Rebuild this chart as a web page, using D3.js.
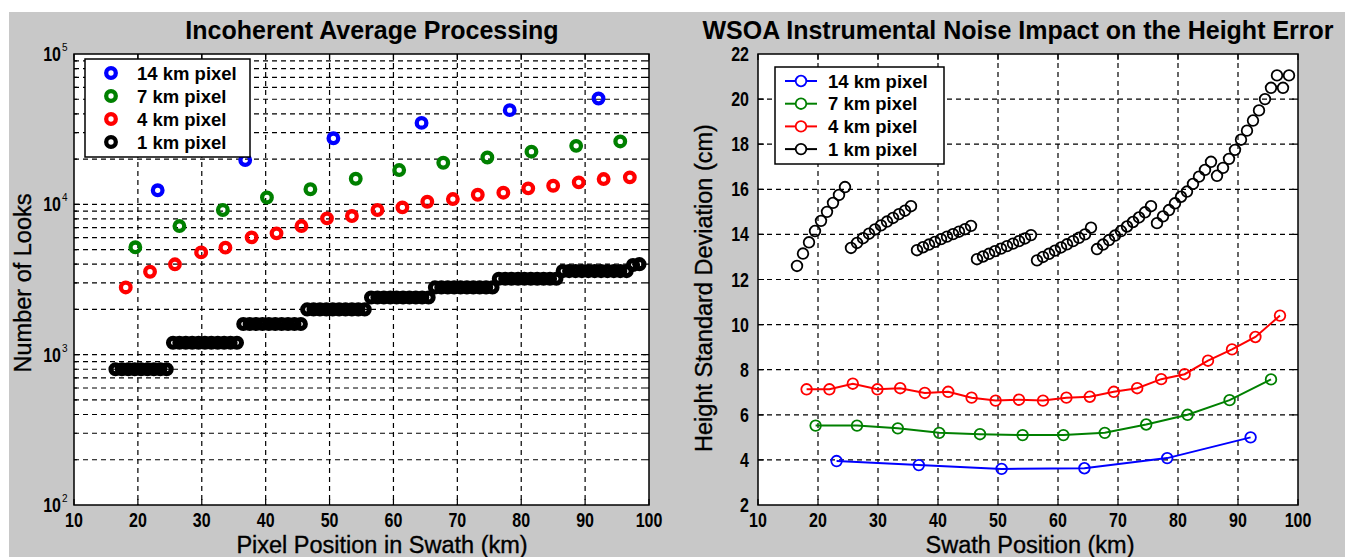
<!DOCTYPE html>
<html>
<head>
<meta charset="utf-8">
<script src="https://cdn.jsdelivr.net/npm/d3@7"></script>
<style>
	body { margin: 0; background: #fff; }
	svg text { font-family: Arial, "Liberation Sans", Helvetica, sans-serif; fill: #000; }
	.axlabel { stroke: #000; stroke-width: 0.35px; }
</style>
</head>
<body>
<svg id="fig" width="1345" height="557"></svg>
<script>

// ---------- Data ----------
const seriesNames = ["14 km pixel", "7 km pixel", "4 km pixel", "1 km pixel"];
const seriesColors = ["#0000ff", "#008000", "#ff0000", "#000000"];

// swath positions (km) of each pixel size
const x14 = [23.1, 36.8, 50.6, 64.4, 78.2, 92.1];
const x7 = [19.6, 26.5, 33.3, 40.2, 47.0, 54.1, 60.9, 67.8, 74.7, 81.6, 88.6, 95.5];
const x4 = [18.1, 21.9, 25.8, 29.9, 33.7, 37.8, 41.7, 45.6, 49.6, 53.5, 57.5, 61.4, 65.3, 69.3, 73.2, 77.2, 81.1, 85.0, 89.0, 92.9, 97.0];
const x1 = [16.5, 17.5, 18.5, 19.5, 20.5, 21.5, 22.5, 23.5, 24.5,
	25.5, 26.5, 27.5, 28.5, 29.5, 30.5, 31.5, 32.5, 33.5, 34.5, 35.5,
	36.5, 37.5, 38.5, 39.5, 40.5, 41.5, 42.5, 43.5, 44.5, 45.5,
	46.5, 47.5, 48.5, 49.5, 50.5, 51.5, 52.5, 53.5, 54.5, 55.5,
	56.5, 57.5, 58.5, 59.5, 60.5, 61.5, 62.5, 63.5, 64.5, 65.5,
	66.5, 67.5, 68.5, 69.5, 70.5, 71.5, 72.5, 73.5, 74.5, 75.5,
	76.5, 77.5, 78.5, 79.5, 80.5, 81.5, 82.5, 83.5, 84.5, 85.5,
	86.5, 87.5, 88.5, 89.5, 90.5, 91.5, 92.5, 93.5, 94.5, 95.5, 96.5, 97.5, 98.5];

// number of looks (left chart)
const looks14 = [12400, 19700, 27500, 34800, 42300, 50600];
const looks7 = [5180, 7170, 9170, 11100, 12600, 14800, 16900, 18900, 20500, 22400, 24500, 26200];
const looks4 = [2800, 3560, 3990, 4790, 5150, 6030, 6410, 7170, 8070, 8360, 9170, 9550, 10400, 10840, 11580, 11950, 12770, 13300, 14000, 14730, 15120];
const looks1 = [800, 800, 800, 800, 800, 800, 800, 800, 800,
	1200, 1200, 1200, 1200, 1200, 1200, 1200, 1200, 1200, 1200, 1200,
	1600, 1600, 1600, 1600, 1600, 1600, 1600, 1600, 1600, 1600,
	2000, 2000, 2000, 2000, 2000, 2000, 2000, 2000, 2000, 2000,
	2400, 2400, 2400, 2400, 2400, 2400, 2400, 2400, 2400, 2400,
	2800, 2800, 2800, 2800, 2800, 2800, 2800, 2800, 2800, 2800,
	3200, 3200, 3200, 3200, 3200, 3200, 3200, 3200, 3200, 3200,
	3600, 3600, 3600, 3600, 3600, 3600, 3600, 3600, 3600, 3600, 3600, 3950, 4000];

// height standard deviation in cm (right chart)
const err14 = [3.95, 3.77, 3.6, 3.63, 4.08, 5.0];
const err7 = [5.52, 5.52, 5.4, 5.2, 5.14, 5.1, 5.1, 5.2, 5.57, 6.0, 6.65, 7.57];
const err4 = [7.13, 7.13, 7.38, 7.13, 7.18, 6.97, 7.02, 6.76, 6.63, 6.67, 6.63, 6.76, 6.8, 7.02, 7.18, 7.58, 7.8, 8.4, 8.9, 9.45, 10.4];
const err1 = [12.6, 13.15, 13.65, 14.15, 14.6, 15.0, 15.4, 15.75, 16.1,
	13.4, 13.62, 13.83, 14.03, 14.22, 14.4, 14.57, 14.73, 14.9, 15.05, 15.25,
	13.3, 13.43, 13.55, 13.67, 13.79, 13.9, 14.01, 14.12, 14.23, 14.38,
	12.9, 13.02, 13.14, 13.26, 13.37, 13.48, 13.59, 13.7, 13.82, 13.97,
	12.85, 13.0, 13.14, 13.28, 13.42, 13.56, 13.7, 13.85, 14.0, 14.3,
	13.35, 13.55, 13.75, 13.95, 14.15, 14.35, 14.55, 14.75, 14.98, 15.25,
	14.5, 14.8, 15.08, 15.38, 15.67, 15.9, 16.24, 16.56, 16.86, 17.22,
	16.6, 16.95, 17.35, 17.75, 18.2, 18.6, 19.05, 19.5, 20.0, 20.5, 21.05, 20.5, 21.05];

const xTicks = [10, 20, 30, 40, 50, 60, 70, 80, 90, 100];
const logExponents = [2, 3, 4, 5];
const errTicks = [2, 4, 6, 8, 10, 12, 14, 16, 18, 20, 22];

// ---------- Figure ----------
const svg = d3.select("#fig");
svg.append("rect").attr("x", 9).attr("y", 12).attr("width", 1336).attr("height", 545).attr("fill", "#c8c8c8");

const dash = "5,4";

function zip(xs, ys) { return xs.map((d, i) => ({ x: d, y: ys[i] })); }

// narrow bold tick label, like the squeezed MATLAB font
function tickText(g, x, y, anchor, txt) {
	return g.append("text")
		.attr("transform", `translate(${x},${y}) scale(0.8,1)`)
		.attr("text-anchor", anchor)
		.style("font-size", "20px").style("font-weight", "bold")
		.text(txt);
}

function frame(x, y, yGrid, majorY) {
	const [x0, x1] = x.range();
	const [y1, y0] = y.range();
	const g = svg.append("g");

	g.append("rect").attr("x", x0).attr("y", y0).attr("width", x1 - x0).attr("height", y1 - y0).attr("fill", "#fff");

	// grid
	g.selectAll(".vg").data(xTicks.slice(1, -1)).enter().append("line")
		.attr("x1", d => x(d)).attr("x2", d => x(d)).attr("y1", y0).attr("y2", y1)
		.attr("stroke", "#000").attr("stroke-width", 1.2).attr("stroke-dasharray", dash);
	g.selectAll(".hg").data(yGrid).enter().append("line")
		.attr("x1", x0).attr("x2", x1).attr("y1", d => y(d)).attr("y2", d => y(d))
		.attr("stroke", "#000").attr("stroke-width", 1.2).attr("stroke-dasharray", dash);

	// inward ticks
	g.selectAll(".xt").data(xTicks).enter().append("path")
		.attr("d", d => `M${x(d)},${y1}v-6M${x(d)},${y0}v6`)
		.attr("stroke", "#000").attr("stroke-width", 1.2);
	g.selectAll(".yt").data(yGrid).enter().append("path")
		.attr("d", d => {
			const l = majorY(d) ? 6 : 3;
			return `M${x0},${y(d)}h${l}M${x1},${y(d)}h${-l}`;
		})
		.attr("stroke", "#000").attr("stroke-width", 1.2);

	// x tick labels
	xTicks.forEach(d => tickText(g, x(d), 527, "middle", d));
	return g;
}

// ---------- Left chart ----------
let xL = d3.scaleLinear().domain([10, 100]).range([74, 649]);
let yL = d3.scaleLog().domain([100, 100000]).range([505, 54]);

const left = frame(xL, yL, yL.ticks().filter(d => d > 100 && d < 100000), d => Math.abs(Math.log10(d) % 1) < 1e-9);

logExponents.forEach(e => {
	tickText(left, 61, yL(Math.pow(10, e)) + 7, "end", "10");
	left.append("text").attr("x", 62).attr("y", yL(Math.pow(10, e)) - 3)
		.style("font-size", "10px").text(e);
});

// black markers drawn a bit heavier so the 1 km runs merge into solid bands
const leftData = [zip(x1, looks1), zip(x4, looks4), zip(x7, looks7), zip(x14, looks14)];
const leftColors = [seriesColors[3], seriesColors[2], seriesColors[1], seriesColors[0]];
const leftStroke = [5, 4.3, 4.3, 4.3];
leftData.forEach((pts, k) => {
	left.append("g").selectAll("circle").data(pts).enter().append("circle")
		.attr("cx", d => xL(d.x)).attr("cy", d => yL(d.y)).attr("r", k == 0 ? 4.6 : 4.8)
		.attr("fill", "none").attr("stroke", leftColors[k]).attr("stroke-width", leftStroke[k]);
});

left.append("rect").attr("x", 74).attr("y", 54).attr("width", 575).attr("height", 451)
	.attr("fill", "none").attr("stroke", "#000").attr("stroke-width", 1.5);

// legend
const legL = left.append("g");
legL.append("rect").attr("x", 85).attr("y", 59).attr("width", 165).attr("height", 98)
	.attr("fill", "#fff").attr("stroke", "#000").attr("stroke-width", 1.5);
seriesNames.forEach((name, i) => {
	let cy = 73 + i * 23;
	legL.append("circle").attr("cx", 111).attr("cy", cy).attr("r", 4.8)
		.attr("fill", "none").attr("stroke", seriesColors[i]).attr("stroke-width", 4.3);
	legL.append("text").attr("x", 137).attr("y", cy + 6.5)
		.style("font-size", "18.5px").style("font-weight", "bold").text(name);
});

left.append("text").attr("x", 372).attr("y", 39).attr("text-anchor", "middle")
	.style("font-size", "25px").style("font-weight", "bold").text("Incoherent Average Processing");
left.append("text").attr("class", "axlabel").attr("x", 382).attr("y", 553).attr("text-anchor", "middle")
	.style("font-size", "23.5px").text("Pixel Position in Swath (km)");
left.append("text").attr("class", "axlabel").attr("transform", "translate(31,283) rotate(-90)").attr("text-anchor", "middle")
	.style("font-size", "23.5px").text("Number of Looks");

// ---------- Right chart ----------
let xR = d3.scaleLinear().domain([10, 100]).range([758, 1298]);
let yR = d3.scaleLinear().domain([2, 22]).range([505, 54]);

const right = frame(xR, yR, errTicks.slice(1, -1), d => true);

errTicks.forEach(d => tickText(right, 749, yR(d) + 7, "end", d));

const rightData = [zip(x14, err14), zip(x7, err7), zip(x4, err4)];
const line = d3.line().x(d => xR(d.x)).y(d => yR(d.y));
rightData.forEach((pts, k) => {
	right.append("path").datum(pts).attr("d", line)
		.attr("fill", "none").attr("stroke", seriesColors[k]).attr("stroke-width", 2);
	right.append("g").selectAll("circle").data(pts).enter().append("circle")
		.attr("cx", d => xR(d.x)).attr("cy", d => yR(d.y)).attr("r", 5.3)
		.attr("fill", "none").attr("stroke", seriesColors[k]).attr("stroke-width", 1.8);
});
right.append("g").selectAll("circle").data(zip(x1, err1)).enter().append("circle")
	.attr("cx", d => xR(d.x)).attr("cy", d => yR(d.y)).attr("r", 5.3)
	.attr("fill", "none").attr("stroke", "#000").attr("stroke-width", 1.8);

right.append("rect").attr("x", 758).attr("y", 54).attr("width", 540).attr("height", 451)
	.attr("fill", "none").attr("stroke", "#000").attr("stroke-width", 1.5);

const legR = right.append("g");
legR.append("rect").attr("x", 775).attr("y", 67).attr("width", 169).attr("height", 97)
	.attr("fill", "#fff").attr("stroke", "#000").attr("stroke-width", 1.5);
seriesNames.forEach((name, i) => {
	let cy = 81 + i * 22.7;
	legR.append("line").attr("x1", 785).attr("x2", 817).attr("y1", cy).attr("y2", cy)
		.attr("stroke", seriesColors[i]).attr("stroke-width", 2);
	legR.append("circle").attr("cx", 801).attr("cy", cy).attr("r", 5.3)
		.attr("fill", "#fff").attr("stroke", seriesColors[i]).attr("stroke-width", 1.8);
	legR.append("text").attr("x", 828).attr("y", cy + 6.5)
		.style("font-size", "18.5px").style("font-weight", "bold").text(name);
});

right.append("text").attr("x", 1018).attr("y", 39).attr("text-anchor", "middle")
	.style("font-size", "25px").style("font-weight", "bold").text("WSOA Instrumental Noise Impact on the Height Error");
right.append("text").attr("class", "axlabel").attr("x", 1030).attr("y", 553).attr("text-anchor", "middle")
	.style("font-size", "23.5px").text("Swath Position (km)");
right.append("text").attr("class", "axlabel").attr("transform", "translate(712,288) rotate(-90)").attr("text-anchor", "middle")
	.style("font-size", "23.5px").text("Height Standard Deviation (cm)");

</script>
</body>
</html>
